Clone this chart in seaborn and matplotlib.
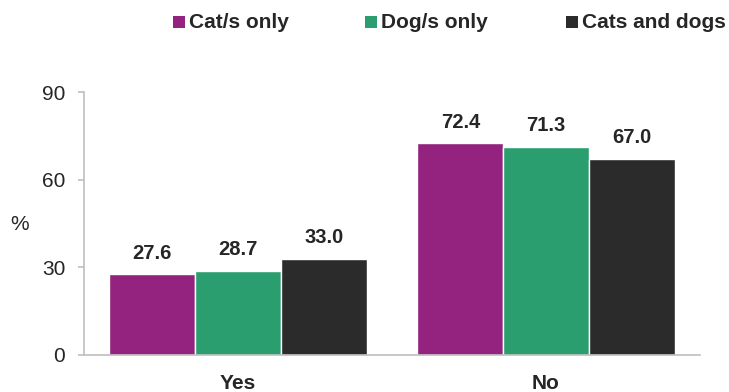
import matplotlib
matplotlib.use("Agg")
import matplotlib.pyplot as plt
import seaborn as sns
import pandas as pd
from matplotlib.patches import Rectangle

categories = ["Yes", "No"]
series = ["Cat/s only", "Dog/s only", "Cats and dogs"]
cat_only = [27.6, 72.4]
dog_only = [28.7, 71.3]
cats_and_dogs = [33.0, 67.0]
yticks = [0, 30, 60, 90]
colors = ["#93237E", "#2A9E6F", "#2B2B2B"]

rows = []
for s, vals in zip(series, [cat_only, dog_only, cats_and_dogs]):
    for c, v in zip(categories, vals):
        rows.append({"cat": c, "series": s, "val": v})
df = pd.DataFrame(rows)

sns.set_style("white")
plt.rcParams["font.family"] = ["Liberation Sans", "DejaVu Sans"]

W, H = 729, 392
fig = plt.figure(figsize=(W / 100, H / 100), dpi=100)
ax = fig.add_axes([84 / W, 1 - 355 / H, 616 / W, 263 / H])
sns.barplot(data=df, x="cat", y="val", hue="series", palette=colors,
            order=categories, hue_order=series, width=0.835, gap=0,
            saturation=1, ax=ax, legend=False)
for cont in ax.containers:
    ax.bar_label(cont, fmt="%.1f", padding=8.5, fontsize=14.5, fontweight="bold")

ax.set_ylim(0, 90)
ax.set_xlim(-0.5, 1.5)
ax.set_yticks(yticks)
ax.set_xlabel("")
ax.set_ylabel("%", rotation=0, fontsize=15, va="center", ha="center")
ax.yaxis.set_label_coords(-0.104, 0.498)
for s in ["top", "right"]:
    ax.spines[s].set_visible(False)
for s in ["left", "bottom"]:
    ax.spines[s].set_color("#BFBFBF")
    ax.spines[s].set_linewidth(1.2)
ax.tick_params(axis="y", which="both", left=True, length=4.5, width=1.2,
               color="#BFBFBF", labelsize=15, pad=9)
ax.tick_params(axis="x", bottom=False, labelsize=15, pad=10)
for t in ax.get_xticklabels():
    t.set_fontweight("bold")

# legend: square + bold label per series (positions in pixels)
sq_x = [173, 365, 566]
for x, c, s in zip(sq_x, colors, series):
    fig.patches.append(Rectangle((x / W, 1 - 28 / H), 12 / W, 12 / H,
                                 transform=fig.transFigure, facecolor=c,
                                 edgecolor="none"))
    fig.text((x + 16) / W, 1 - 22 / H, s, fontsize=15, fontweight="bold",
             va="center", ha="left")

fig.savefig("out.png", dpi=100)
